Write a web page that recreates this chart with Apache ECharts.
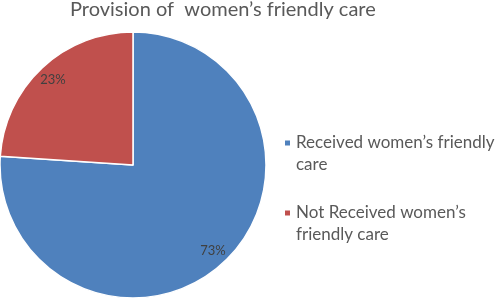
<!DOCTYPE html>
<html>
<head>
<meta charset="utf-8">
<script src="https://cdn.jsdelivr.net/npm/echarts@6/dist/echarts.min.js"></script>
<style>
  html, body { margin: 0; padding: 0; background: #fff; }
  #chart { width: 500px; height: 299px; }
</style>
</head>
<body>
<div id="chart"></div>
<script>
var titleText = 'Provision of  women\u2019s friendly care';
var categoryList = ['Received women\u2019s friendly care', 'Not Received women\u2019s friendly care'];
var legendTextList = ['Received women\u2019s friendly\ncare', 'Not Received women\u2019s\nfriendly care'];
var valueList = [73, 23];
var colorList = ['#4f81bd', '#c0504d'];

var chart = echarts.init(document.getElementById('chart'));

var pieData = [];
for (var i = 0; i < categoryList.length; i++) {
	pieData.push({ name: categoryList[i], value: valueList[i] });
}

var option = {
	color: colorList,
	animation: false,
	title: {
		text: titleText,
		left: 70,
		top: 0,
		padding: 0,
		textStyle: {
			fontFamily: 'Lato',
			fontWeight: 'normal',
			fontSize: 20,
			color: '#595959'
		}
	},
	legend: {
		orient: 'vertical',
		left: 283,
		top: 110,
		padding: 0,
		itemGap: 4,
		itemWidth: 7,
		itemHeight: 7,
		icon: 'rect',
		data: categoryList,
		// leading blank line so the first text line sits level with the icon
		formatter: function(name) {
			return '\n' + legendTextList[categoryList.indexOf(name)];
		},
		textStyle: {
			fontFamily: 'Lato',
			fontSize: 17,
			color: '#595959',
			lineHeight: 22
		}
	},
	series: [{
		name: 'care',
		type: 'pie',
		center: [133, 165],
		radius: 133,
		startAngle: 90,
		clockwise: true,
		label: { show: false },
		labelLine: { show: false },
		itemStyle: {
			borderColor: '#fff',
			borderWidth: 1.5
		},
		emphasis: { disabled: true },
		data: pieData
	}, {
		// transparent ring, only to put the labels near the rim
		name: 'labels',
		type: 'pie',
		center: [133, 165],
		radius: [95, 133],
		startAngle: 90,
		clockwise: true,
		silent: true,
		itemStyle: { color: 'transparent' },
		label: {
			show: true,
			position: 'inside',
			formatter: '{c}%',
			fontFamily: 'Lato',
			fontSize: 13,
			color: '#404040'
		},
		labelLine: { show: false },
		emphasis: { disabled: true },
		data: pieData
	}]
};

chart.setOption(option);
</script>
</body>
</html>
